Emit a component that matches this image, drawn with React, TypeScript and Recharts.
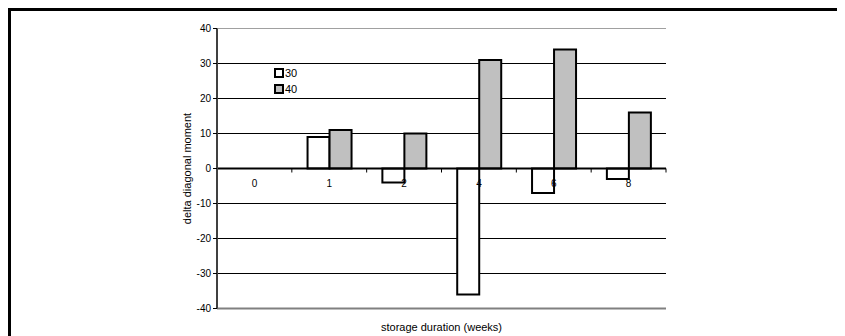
import { BarChart, Bar, XAxis, YAxis, CartesianGrid, ReferenceLine, Legend, Label } from 'recharts'

const categories = ['0', '1', '2', '4', '6', '8']
const series30 = [null, 9, -4, -36, -7, -3]
const series40 = [null, 11, 10, 31, 34, 16]
const yTicks = [-40, -30, -20, -10, 0, 10, 20, 30, 40]

const data = categories.map((week, i) => ({
  week,
  s30: series30[i],
  s40: series40[i],
}))

const W = 837
const H = 328
const margin = { top: 20.5, right: 179, bottom: 0, left: 0 }
const yAxisW = 209
const xAxisH = 27.5
const plotW = W - margin.left - margin.right - yAxisW
const plotH = H - margin.top - margin.bottom - xAxisH
const yMin = -40
const yMax = 40
const font = '"Liberation Sans", Arial, sans-serif'

// category labels sit just under the zero line, not at the bottom
function CategoryTick(props: any) {
  const { x, y, payload } = props
  const zeroY = y - plotH * (0 - yMin) / (yMax - yMin)
  const bandW = plotW / categories.length
  return (
    <g>
      <line x1={x + bandW / 2} x2={x + bandW / 2} y1={zeroY} y2={zeroY + 4} stroke="#000" strokeWidth={1} />
      <text x={x} y={zeroY + 18} textAnchor="middle" fontSize={10} fontFamily={font} fill="#000">
        {payload.value}
      </text>
    </g>
  )
}

function YTitle(props: any) {
  const vb = props.viewBox
  const cx = 179
  const cy = vb.y + vb.height / 2
  return (
    <text x={cx} y={cy} transform={`rotate(-90 ${cx} ${cy})`} textAnchor="middle" dominantBaseline="central" fontSize={11} fontFamily={font} fill="#000">
      delta diagonal moment
    </text>
  )
}

function LegendBox() {
  const items = [
    { label: '30', fill: '#ffffff' },
    { label: '40', fill: '#c0c0c0' },
  ]
  return (
    <div style={{ fontFamily: font, fontSize: 11, lineHeight: '16px' }}>
      {items.map((it) => (
        <div key={it.label} style={{ display: 'flex', alignItems: 'center' }}>
          <span style={{ display: 'inline-block', width: 6, height: 6, border: '2px solid #000', background: it.fill, marginRight: 1 }} />
          <span>{it.label}</span>
        </div>
      ))}
    </div>
  )
}

export default function App() {
  return (
    <div style={{ position: 'relative', width: W, height: H }}>
      <BarChart width={W} height={H} data={data} margin={margin} barCategoryGap="21%" barGap={0}>
        <CartesianGrid vertical={false} stroke="#000" strokeWidth={1} />
        <XAxis
          dataKey="week"
          height={xAxisH}
          axisLine={false}
          tickLine={false}
          tickSize={0}
          tickMargin={0}
          tick={<CategoryTick />}
          interval={0}
        >
          <Label value="storage duration (weeks)" position="insideBottom" offset={5} fontSize={11} fontFamily={font} fill="#000" />
        </XAxis>
        <YAxis
          width={yAxisW}
          domain={[yMin, yMax]}
          ticks={yTicks}
          interval={0}
          axisLine={{ stroke: '#404040', strokeWidth: 2 }}
          tickLine={{ stroke: '#000' }}
          tickSize={4}
          tickMargin={2}
          tick={{ fontSize: 10, fontFamily: font, fill: '#000' }}
        >
          <Label content={<YTitle />} />
        </YAxis>
        <YAxis
          yAxisId="frame"
          orientation="right"
          width={0}
          domain={[yMin, yMax]}
          tick={false}
          tickLine={false}
          axisLine={{ stroke: '#a0a0a0', strokeWidth: 2 }}
        />
        <ReferenceLine y={40} stroke="#a0a0a0" strokeWidth={1} />
        <ReferenceLine y={-40} stroke="#808080" strokeWidth={2} />
        <Legend
          content={<LegendBox />}
          layout="horizontal"
          verticalAlign="middle"
          align="center"
          wrapperStyle={{ position: 'absolute', left: 266, top: 57, width: 40 }}
        />
        <Bar dataKey="s30" name="30" fill="#ffffff" stroke="#000" strokeWidth={2} isAnimationActive={false} />
        <Bar dataKey="s40" name="40" fill="#c0c0c0" stroke="#000" strokeWidth={2} isAnimationActive={false} />
        <ReferenceLine y={0} stroke="#000" strokeWidth={2} />
      </BarChart>
      <div
        style={{
          position: 'absolute',
          left: 0,
          top: 0,
          width: W,
          height: H,
          borderTop: '3px solid #000',
          borderLeft: '3px solid #000',
          boxSizing: 'border-box',
          pointerEvents: 'none',
        }}
      />
    </div>
  )
}
